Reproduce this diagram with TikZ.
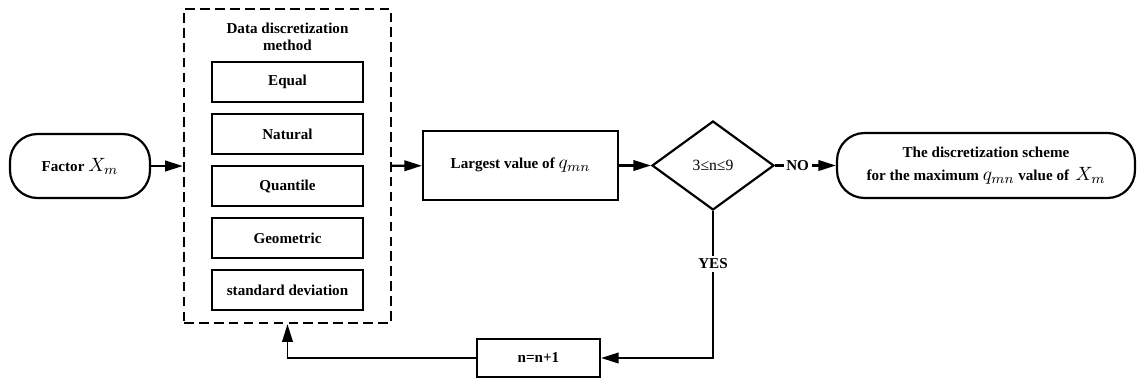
\documentclass[tikz,border=0pt]{standalone}
\usepackage{amsmath}
\usepackage{fontspec}
\setmainfont{Liberation Serif}
\usetikzlibrary{arrows.meta}
\usetikzlibrary{shapes.geometric}

\newcommand{\fm}[1]{{\fontsize{11}{12}\selectfont$#1$}}

\begin{document}
\begin{tikzpicture}[x=0.02cm, y=-0.02cm,
  every node/.style={font=\bfseries\fontsize{8.6}{10}\selectfont},
  box/.style={draw, line width=1.25pt, inner sep=0pt},
  methodbox/.style={box, minimum width=3.02cm, minimum height=0.8cm},
  endbox/.style={box, rounded corners=0.55cm},
  link/.style={line width=1.25pt, -{Triangle[length=10pt,width=6pt]}}]

\useasboundingbox (0,0) rectangle (1137,383);

\node[endbox, minimum width=2.8cm, minimum height=1.28cm] (factor) at (80,166) {Factor \fm{X_m}};

\node[box, dash pattern=on 5.5pt off 3pt, line width=1.4pt, minimum width=4.14cm, minimum height=6.28cm] (method) at (287.5,166) {};
\node[align=center] (title) at (287.5,37) {Data discretization\\method};
\foreach \name/\txt [count=\i from 0] in {equal/Equal, natural/Natural, quantile/Quantile, geometric/Geometric, std/standard deviation}
  \node[methodbox] (\name) at (287.5,82+52*\i) {\txt};

\node[box, minimum width=3.9cm, minimum height=1.38cm] (largest) at (520.5,165.5) {Largest value of \fm{q_{mn}}};
\node[box, diamond, minimum width=2.44cm, minimum height=1.78cm, font=\fontsize{8.9}{10}\selectfont] (cond) at (713,165.5) {3≤n≤9};
\node[endbox, minimum width=5.96cm, minimum height=1.3cm, align=center] (scheme) at (986,165.5) {The discretization scheme\\[3pt] for the maximum \fm{q_{mn}} value of \,\fm{X_m}};
\node[box, minimum width=2.46cm, minimum height=0.76cm] (incr) at (538.5,358) {n=n+1};

\draw[link] (factor) -- (method);
\draw[link] (method) -- (largest);
\draw[link] (largest) -- (cond);
\draw[link] (cond) -- node[pos=0.37, fill=white, inner sep=1.5pt] {NO} (scheme);
\draw[link] (cond.south) |- node[pos=0.18, fill=white, inner sep=1.5pt] {YES} (incr);
\draw[link, line width=1pt] (incr) -| (method.south);

\end{tikzpicture}
\end{document}
